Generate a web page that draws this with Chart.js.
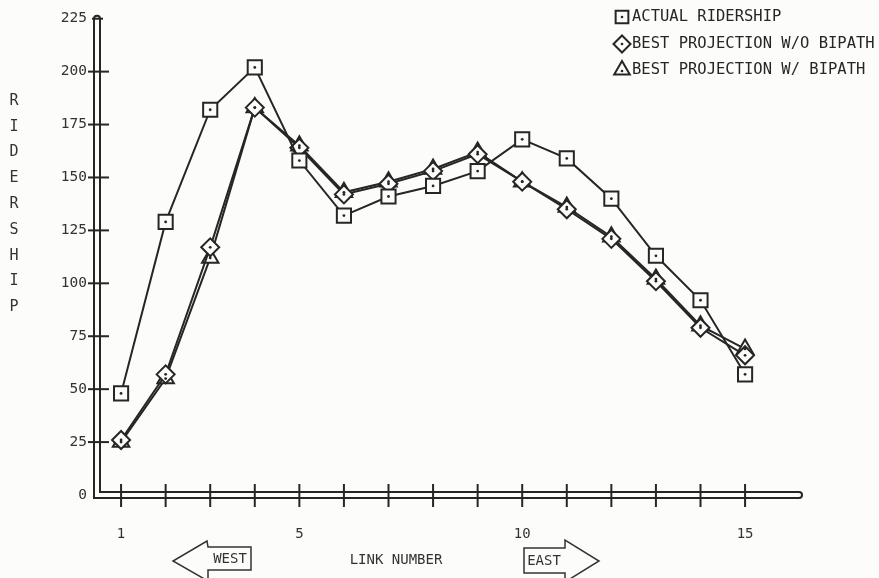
<!DOCTYPE html>
<html><head><meta charset="utf-8">
<script src="https://cdn.jsdelivr.net/npm/chart.js@4/dist/chart.umd.min.js"></script>
<style>html,body{margin:0;padding:0;background:#fcfcfb;}canvas{display:block}</style>
</head><body>
<canvas id="c" width="879" height="578"></canvas>
<script>
// ---- data ----
const linkNumbers      = [1, 2, 3, 4, 5, 6, 7, 8, 9, 10, 11, 12, 13, 14, 15];
const actualRidership  = [48, 129, 182, 202, 158, 132, 141, 146, 153, 168, 159, 140, 113, 92, 57];
const projNoBipath     = [26, 57, 117, 183, 164, 142, 147, 153, 161, 148, 135, 121, 101, 79, 66];
const projBipath       = [25, 55, 112, 183, 165, 143, 148, 154, 162, 148, 136, 122, 102, 80, 69];
const seriesLabels     = ['ACTUAL RIDERSHIP', 'BEST PROJECTION W/O BIPATH', 'BEST PROJECTION W/ BIPATH'];
const xTickValues      = [1, 2, 3, 4, 5, 6, 7, 8, 9, 10, 11, 12, 13, 14, 15];
const xTickLabels      = [1, 5, 10, 15];
const yTickValues      = [0, 25, 50, 75, 100, 125, 150, 175, 200, 225];
const yTitleLetters    = ['R', 'I', 'D', 'E', 'R', 'S', 'H', 'I', 'P'];
const xTitle           = 'LINK NUMBER';
const arrowLabels      = ['WEST', 'EAST'];

const INK = '#262626';
const BG = '#fcfcfb';
const MONO = '"DejaVu Sans Mono", "Liberation Mono", monospace';

function pts(vals) { return linkNumbers.map((x, i) => ({ x: x, y: vals[i] })); }

const decor = {
  id: 'decor',
  beforeDatasetsDraw(chart) {
    const ctx = chart.ctx, a = chart.chartArea;
    const xs = chart.scales.x, ys = chart.scales.y;
    ctx.save();
    // hollow double axis line
    ctx.beginPath();
    ctx.moveTo(a.left, a.top);
    ctx.lineTo(a.left, a.bottom);
    ctx.lineTo(a.right, a.bottom);
    ctx.lineJoin = 'miter';
    ctx.lineCap = 'round';
    ctx.strokeStyle = INK; ctx.lineWidth = 8; ctx.stroke();
    ctx.strokeStyle = BG; ctx.lineWidth = 4; ctx.stroke();
    // ticks
    ctx.strokeStyle = INK; ctx.lineWidth = 2; ctx.lineCap = 'butt';
    yTickValues.forEach(v => {
      if (v === 0) return;
      const y = ys.getPixelForValue(v);
      ctx.beginPath();
      if (v === yTickValues[yTickValues.length - 1]) { ctx.moveTo(a.left - 5, y); ctx.lineTo(a.left + 6, y); }
      else { ctx.moveTo(a.left - 9, y); ctx.lineTo(a.left + 12, y); }
      ctx.stroke();
    });
    xTickValues.forEach(v => {
      const x = xs.getPixelForValue(v);
      ctx.beginPath(); ctx.moveTo(x, a.bottom - 11); ctx.lineTo(x, a.bottom + 12); ctx.stroke();
    });
    ctx.restore();
  },
  afterDatasetsDraw(chart) {
    const ctx = chart.ctx;
    ctx.save();
    ctx.fillStyle = INK;
    chart.data.datasets.forEach((ds, i) => {
      const meta = chart.getDatasetMeta(i);
      meta.data.forEach(el => {
        ctx.beginPath(); ctx.arc(el.x, el.y, 1.4, 0, Math.PI * 2); ctx.fill();
      });
    });
    ctx.restore();
  },
  afterDraw(chart) {
    const ctx = chart.ctx;
    ctx.save();
    // legend
    const rows = [17, 44, 70];
    const sizes = [9, 8.5, 9];
    chart.data.datasets.forEach((ds, i) => {
      const y = rows[i];
      ctx.fillStyle = BG; ctx.strokeStyle = INK; ctx.lineWidth = 2;
      Chart.helpers.drawPoint(ctx, { pointStyle: ds.pointStyle, radius: sizes[i], borderWidth: 2, rotation: 0 }, 622, y);
      ctx.fillStyle = INK;
      ctx.beginPath(); ctx.arc(622, y + (i === 2 ? 1 : 0), 1.3, 0, Math.PI * 2); ctx.fill();
      ctx.font = '15.5px ' + MONO; ctx.textBaseline = 'middle'; ctx.textAlign = 'left';
      ctx.fillText(ds.label, 632, y);
    });
    // y title, stacked letters
    ctx.font = '15px ' + MONO; ctx.textAlign = 'center'; ctx.fillStyle = '#333';
    yTitleLetters.forEach((ch, i) => ctx.fillText(ch, 14, 101 + i * 25.8));
    // x title
    ctx.font = '14px ' + MONO;
    ctx.fillText(xTitle, 396, 560);
    // arrows
    ctx.strokeStyle = '#333'; ctx.lineWidth = 1.5; ctx.lineJoin = 'miter';
    ctx.beginPath();
    ctx.moveTo(208, 547); ctx.lineTo(251, 547); ctx.lineTo(251, 570); ctx.lineTo(208, 570);
    ctx.lineTo(208, 581); ctx.lineTo(173, 561); ctx.lineTo(207, 541); ctx.closePath();
    ctx.stroke();
    ctx.beginPath();
    ctx.moveTo(565, 548); ctx.lineTo(524, 548); ctx.lineTo(524, 573); ctx.lineTo(565, 573);
    ctx.lineTo(565, 582); ctx.lineTo(599, 561); ctx.lineTo(565, 540); ctx.closePath();
    ctx.stroke();
    ctx.fillText(arrowLabels[0], 230, 559);
    ctx.fillText(arrowLabels[1], 544, 561);
    ctx.restore();
  }
};

const common = {
  borderColor: INK, borderWidth: 2, tension: 0,
  pointBackgroundColor: BG, pointBorderColor: INK, pointBorderWidth: 2,
  pointRadius: 9, fill: false
};

new Chart(document.getElementById('c'), {
  type: 'line',
  data: {
    datasets: [
      Object.assign({}, common, { label: seriesLabels[0], data: pts(actualRidership), pointStyle: 'rect', pointRadius: 10 }),
      Object.assign({}, common, { label: seriesLabels[1], data: pts(projNoBipath), pointStyle: 'rectRot', pointRadius: 9 }),
      Object.assign({}, common, { label: seriesLabels[2], data: pts(projBipath), pointStyle: 'triangle', pointRadius: 9.5 })
    ]
  },
  options: {
    responsive: false, animation: false, devicePixelRatio: 1,
    layout: { padding: { top: 12, right: 80, left: 0, bottom: 0 } },
    plugins: { legend: { display: false }, tooltip: { enabled: false } },
    scales: {
      x: {
        type: 'linear', min: 0.46, max: 16.21,
        grid: { display: false, drawTicks: false }, border: { display: false },
        afterBuildTicks: s => { s.ticks = xTickValues.map(v => ({ value: v })); },
        afterFit: s => { s.height = 83; },
        ticks: {
          autoSkip: false, maxRotation: 0, padding: 31, color: '#333',
          font: { family: MONO, size: 14 },
          callback: v => xTickLabels.includes(v) ? String(v) : ''
        }
      },
      y: {
        min: 0, max: 225,
        grid: { display: false, drawTicks: false }, border: { display: false },
        afterBuildTicks: s => { s.ticks = yTickValues.map(v => ({ value: v })); },
        afterFit: s => { s.width = 97; },
        ticks: { padding: 10, color: '#333', font: { family: MONO, size: 14.5 } }
      }
    }
  },
  plugins: [decor]
});
</script>
</body></html>
